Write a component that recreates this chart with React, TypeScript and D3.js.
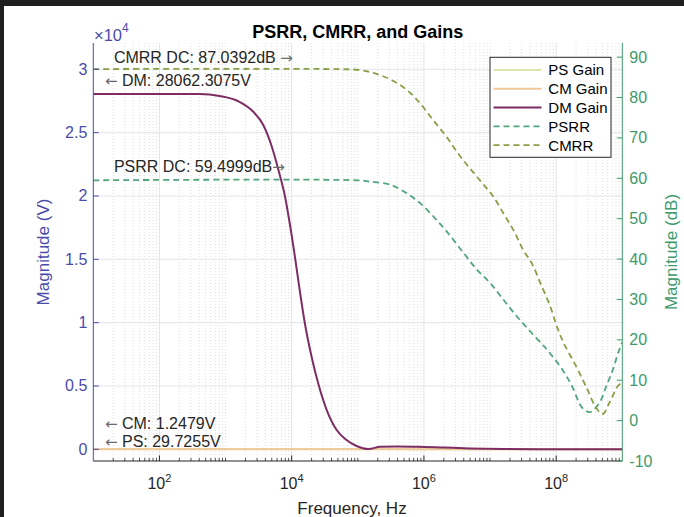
import React from 'react'
import * as d3 from 'd3'

// frequency sweep values (Hz)
const dmFreq = [10, 100, 407, 813, 1620, 2630, 3720, 5010, 6310, 7940, 9330, 11200, 13200, 15800, 20000, 25100, 33900, 47900, 67600, 95500, 145000, 219000, 398000, 794000, 2e6, 5e6, 1.6e7, 1e8, 1e9]
const dmGain = [28062, 28060, 28050, 27890, 27440, 26650, 25600, 23890, 22050, 19940, 17870, 15200, 12580, 9970, 7310, 5230, 3100, 1520, 730, 260, 20, 200, 230, 210, 140, 70, 25, 5, 2]

const gainFreq = [10, 1e4, 1e5, 1e6, 1e7, 1e8, 1e9]
const psGain = [29.73, 29.7, 27, 12, 3, 0.8, 0.2]
const cmGain = [1.248, 1.248, 1.2, 0.6, 0.15, 0.05, 0.02]

const psrrFreq = [10, 1e5, 1.5e5, 3.1e5, 5.5e5, 8.7e5, 1.38e6, 2.19e6, 3.98e6, 6.31e6, 1e7, 1.58e7, 2.51e7, 3.98e7, 6.46e7, 7.59e7, 1.23e8, 1.74e8, 2.45e8, 3.24e8, 4.57e8, 5.75e8, 7.24e8, 8.71e8, 1e9]
const psrrDb = [59.5, 59.5, 59.2, 58.4, 56.3, 53.9, 50.6, 46.9, 41.5, 37.4, 34.1, 30.0, 25.9, 22.2, 18.5, 17.2, 12.7, 8.5, 3.3, 2.1, 4.6, 8.6, 12.7, 16.9, 19.4]

const cmrrFreq = [10, 3.8e4, 1.07e5, 1.7e5, 3.09e5, 5.5e5, 8.71e5, 1.38e6, 2.19e6, 3.55e6, 5.62e6, 8.91e6, 1.12e7, 1.58e7, 2.24e7, 3.16e7, 4.27e7, 5.75e7, 8.13e7, 1.02e8, 1.29e8, 2.04e8, 2.95e8, 3.89e8, 5.01e8, 6.46e8, 8.51e8, 1e9]
const cmrrDb = [87.04, 87.04, 86.8, 86.1, 84.5, 81.9, 78.6, 74.4, 70.3, 65.4, 61.4, 57.5, 55.5, 51.4, 47.3, 42.3, 39.0, 34.1, 28.3, 23.4, 19.3, 13.2, 7.8, 3.6, 1.6, 4.6, 8.5, 9.5]

const xTickExp = [2, 4, 6, 8]
const leftTicks = [0, 5000, 10000, 15000, 20000, 25000, 30000]
const leftTickLabels = ['0', '0.5', '1', '1.5', '2', '2.5', '3']
const rightTicks = [-10, 0, 10, 20, 30, 40, 50, 60, 70, 80, 90]

const legendNames = ['PS Gain', 'CM Gain', 'DM Gain', 'PSRR', 'CMRR']

const FONT = '"Liberation Sans", Arial, Helvetica, sans-serif'
const ARROW_FONT = '"DejaVu Sans", sans-serif'
const leftColor = '#4b4ba8'
const rightColor = '#3d9a6c'
const psColor = '#dfe6ab'
const cmColor = '#efc79b'
const dmColor = '#7d2d63'
const psrrColor = '#4fa67c'
const cmrrColor = '#88a044'
const textColor = '#262626'
const arrowColor = '#6a6a6a'

const W = 684
const H = 517
const plot = { left: 93.3, right: 622.3, top: 43, bottom: 461 }

export default function App() {
  const x = d3.scaleLog().domain([10, 1e9]).range([plot.left, plot.right])
  const yL = d3.scaleLinear().domain([-924, 32080]).range([plot.bottom, plot.top])
  const yR = d3.scaleLinear().domain([-10, 93.5]).range([plot.bottom, plot.top])

  const lineL = (fs: number[], vs: number[]) =>
    d3
      .line<number>()
      .x((_, i) => x(fs[i]))
      .y((v) => yL(v))
      .curve(d3.curveMonotoneX)(vs) || ''
  const lineR = (fs: number[], vs: number[]) =>
    d3
      .line<number>()
      .x((_, i) => x(fs[i]))
      .y((v) => yR(v))
      .curve(d3.curveCatmullRom.alpha(0.5))(vs) || ''

  // log minor ticks
  const minor: number[] = []
  for (let e = 1; e < 9; e++) {
    for (let k = 2; k <= 9; k++) minor.push(k * Math.pow(10, e))
    if (e % 2 === 1 && e > 1) minor.push(Math.pow(10, e))
  }
  const major = xTickExp.map((e) => Math.pow(10, e))

  const legendItems = [
    { color: psColor, dash: '' },
    { color: cmColor, dash: '' },
    { color: dmColor, dash: '' },
    { color: psrrColor, dash: '6,4' },
    { color: cmrrColor, dash: '6,4' },
  ]

  const annoX1 = x(20.5)
  const annoX2 = x(15)

  const Arrow = ({ ch }: { ch: string }) => (
    <tspan fill={arrowColor} fontFamily={ARROW_FONT} fontSize={15}>
      {ch}
    </tspan>
  )

  return (
    <svg
      width={W}
      height={H}
      style={{ position: 'absolute', left: 0, top: 0, fontFamily: FONT }}
    >
      <rect width={W} height={H} fill="#1f1f1f" />
      <rect x={4} y={6} width={W - 4} height={H - 6} fill="#ffffff" />
      <defs>
        <clipPath id="plotClip">
          <rect
            x={plot.left}
            y={plot.top}
            width={plot.right - plot.left}
            height={plot.bottom - plot.top}
          />
        </clipPath>
      </defs>

      {/* grid */}
      <g>
        {minor.map((f, i) => (
          <line
            key={'mg' + i}
            x1={x(f)}
            x2={x(f)}
            y1={plot.top}
            y2={plot.bottom}
            stroke="#d6d6d6"
            strokeWidth={0.8}
            strokeDasharray="1,2"
          />
        ))}
        {major.map((f, i) => (
          <line
            key={'Mg' + i}
            x1={x(f)}
            x2={x(f)}
            y1={plot.top}
            y2={plot.bottom}
            stroke="#e4e4e4"
            strokeWidth={1}
          />
        ))}
        {leftTicks.map((v, i) => (
          <line
            key={'hg' + i}
            x1={plot.left}
            x2={plot.right}
            y1={yL(v)}
            y2={yL(v)}
            stroke="#e4e4ee"
            strokeWidth={1}
          />
        ))}
      </g>

      {/* curves */}
      <g clipPath="url(#plotClip)" fill="none">
        <path d={lineL(gainFreq, psGain)} stroke={psColor} strokeWidth={2} />
        <path d={lineL(gainFreq, cmGain)} stroke={cmColor} strokeWidth={2} />
        <path d={lineL(dmFreq, dmGain)} stroke={dmColor} strokeWidth={2} />
        <path
          d={lineR(psrrFreq, psrrDb)}
          stroke={psrrColor}
          strokeWidth={1.8}
          strokeDasharray="6,4"
        />
        <path
          d={lineR(cmrrFreq, cmrrDb)}
          stroke={cmrrColor}
          strokeWidth={1.8}
          strokeDasharray="6,4"
        />
      </g>

      {/* bottom axis */}
      <line
        x1={plot.left}
        x2={plot.right}
        y1={plot.bottom}
        y2={plot.bottom}
        stroke={textColor}
        strokeWidth={1}
      />
      {minor.map((f, i) => (
        <line
          key={'mt' + i}
          x1={x(f)}
          x2={x(f)}
          y1={plot.bottom}
          y2={plot.bottom - 3}
          stroke={textColor}
          strokeWidth={0.8}
        />
      ))}
      {major.map((f, i) => (
        <g key={'xt' + i}>
          <line
            x1={x(f)}
            x2={x(f)}
            y1={plot.bottom}
            y2={plot.bottom - 5.5}
            stroke={textColor}
          />
          <text
            x={x(f)}
            y={plot.bottom + 28}
            textAnchor="middle"
            fontSize={16}
            fill={textColor}
          >
            <tspan>10</tspan>
            <tspan dy={-7} fontSize={11}>
              {xTickExp[i]}
            </tspan>
          </text>
        </g>
      ))}
      <text
        x={352}
        y={514}
        textAnchor="middle"
        fontSize={17}
        fill={textColor}
      >
        Frequency, Hz
      </text>

      {/* left axis */}
      <line
        x1={plot.left}
        x2={plot.left}
        y1={plot.top}
        y2={plot.bottom}
        stroke={leftColor}
      />
      {leftTicks.map((v, i) => (
        <g key={'lt' + i}>
          <line
            x1={plot.left}
            x2={plot.left + 5.5}
            y1={yL(v)}
            y2={yL(v)}
            stroke={leftColor}
          />
          <text
            x={plot.left - 6}
            y={yL(v) + 5.5}
            textAnchor="end"
            fontSize={16}
            fill={leftColor}
          >
            {leftTickLabels[i]}
          </text>
        </g>
      ))}
      <text x={94} y={40.5} fontSize={16.5} fill={leftColor}>
        <tspan>×10</tspan>
        <tspan dy={-8.5} fontSize={12}>
          4
        </tspan>
      </text>
      <text
        transform={`translate(49, ${(plot.top + plot.bottom) / 2}) rotate(-90)`}
        textAnchor="middle"
        fontSize={17}
        fill={leftColor}
      >
        Magnitude (V)
      </text>

      {/* right axis */}
      <line
        x1={plot.right}
        x2={plot.right}
        y1={plot.top}
        y2={plot.bottom}
        stroke={rightColor}
      />
      {rightTicks.map((v, i) => (
        <g key={'rt' + i}>
          <line
            x1={plot.right}
            x2={plot.right - 5.5}
            y1={yR(v)}
            y2={yR(v)}
            stroke={rightColor}
          />
          <text
            x={plot.right + 7}
            y={yR(v) + 5.5}
            textAnchor="start"
            fontSize={16}
            fill={rightColor}
          >
            {v}
          </text>
        </g>
      ))}
      <text
        transform={`translate(677, ${(plot.top + plot.bottom) / 2}) rotate(-90)`}
        textAnchor="middle"
        fontSize={17}
        fill={rightColor}
      >
        Magnitude (dB)
      </text>

      {/* title */}
      <text
        x={(plot.left + plot.right) / 2}
        y={38}
        textAnchor="middle"
        fontSize={18}
        fontWeight="bold"
        fill="#000"
      >
        PSRR, CMRR, and Gains
      </text>

      {/* annotations */}
      <g fontSize={16} fill={textColor}>
        <text x={annoX1} y={yR(cmrrDb[0]) - 6}>
          CMRR DC: 87.0392dB <Arrow ch="→" />
        </text>
        <text x={annoX2} y={yL(dmGain[0]) - 8}>
          <Arrow ch="←" /> DM: 28062.3075V
        </text>
        <text x={annoX1} y={yR(psrrDb[0]) - 8}>
          PSRR DC: 59.4999dB<Arrow ch="→" />
        </text>
        <text x={annoX2} y={yL(cmGain[0]) - 20}>
          <Arrow ch="←" /> CM: 1.2479V
        </text>
        <text x={annoX2} y={yL(psGain[0]) - 2}>
          <Arrow ch="←" /> PS: 29.7255V
        </text>
      </g>

      {/* legend */}
      <g>
        <rect
          x={490}
          y={57.3}
          width={121}
          height={100}
          fill="#fff"
          stroke={textColor}
          strokeWidth={1}
        />
        {legendNames.map((name, i) => {
          const cy = 70 + i * 18.8
          return (
            <g key={name}>
              <line
                x1={493.5}
                x2={541.5}
                y1={cy}
                y2={cy}
                stroke={legendItems[i].color}
                strokeWidth={legendItems[i].dash ? 1.8 : 2}
                strokeDasharray={legendItems[i].dash || undefined}
              />
              <text x={548.3} y={cy + 5.3} fontSize={15} fill="#000">
                {name}
              </text>
            </g>
          )
        })}
      </g>
    </svg>
  )
}
